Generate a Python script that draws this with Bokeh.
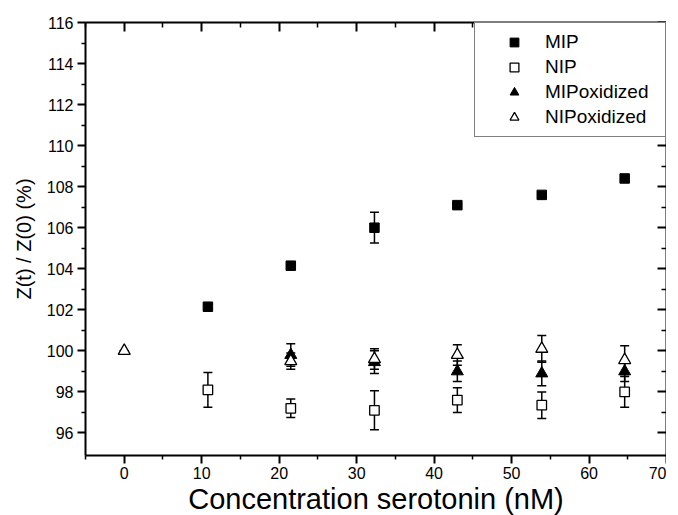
from bokeh.plotting import figure
from bokeh.models import (LinearAxis, FixedTicker, Whisker, TeeHead, ColumnDataSource,
                          Range1d, Legend, LegendItem, CustomJSTickFormatter)
from bokeh.embed import file_html
from bokeh.resources import INLINE

# ---- data ----
mip_x = [10.8, 21.5, 32.3, 43.0, 53.9, 64.6]
mip_y = [102.15, 104.15, 106.0, 107.1, 107.6, 108.4]
mip_err = [0.1, 0.1, 0.75, 0.1, 0.1, 0.12]

nip_x = [10.8, 21.5, 32.3, 43.0, 53.9, 64.6]
nip_y = [98.1, 97.2, 97.1, 97.6, 97.35, 98.0]
nip_err = [0.85, 0.45, 0.95, 0.6, 0.65, 0.75]

mipox_x = [21.5, 32.3, 43.0, 53.9, 64.6]
mipox_y = [99.8, 99.45, 99.0, 98.9, 99.0]
mipox_err = [0.55, 0.55, 0.5, 0.6, 0.5]

nipox_x = [0.0, 21.5, 32.3, 43.0, 53.9, 64.6]
nipox_y = [100.0, 99.5, 99.6, 99.8, 100.1, 99.55]
nipox_err = [0.0, 0.4, 0.5, 0.5, 0.65, 0.7]

x_ticks = [0, 10, 20, 30, 40, 50, 60, 70]
x_minor = [-5, 5, 15, 25, 35, 45, 55, 65]
y_ticks = [96, 98, 100, 102, 104, 106, 108, 110, 112, 114, 116]
y_minor = [97, 99, 101, 103, 105, 107, 109, 111, 113, 115]

FONT = "Liberation Sans"

p = figure(frame_width=581, frame_height=433,
           x_range=Range1d(-5, 70), y_range=Range1d(94.9, 116),
           output_backend="svg", toolbar_location=None,
           min_border_left=85, min_border_top=22, min_border_right=0, min_border_bottom=56)
p.outline_line_color = None
p.xgrid.visible = False
p.ygrid.visible = False
p.background_fill_color = "white"
p.border_fill_color = "white"


def style_axis(ax, ticks, minor, inward, labels=True):
    ax.ticker = FixedTicker(ticks=ticks, minor_ticks=minor)
    ax.axis_line_width = 2
    ax.axis_line_color = "black"
    ax.major_tick_line_width = 2
    ax.minor_tick_line_width = 1.5
    ax.major_tick_line_color = "black"
    ax.minor_tick_line_color = "black"
    if inward:
        ax.major_tick_in, ax.major_tick_out = 9, 0
        ax.minor_tick_in, ax.minor_tick_out = 5, 0
    else:
        ax.major_tick_in, ax.major_tick_out = 0, 8
        ax.minor_tick_in, ax.minor_tick_out = 0, 4
    if labels:
        ax.major_label_text_font = FONT
        ax.major_label_text_font_size = "16px"
        ax.major_label_text_color = "black"
        ax.axis_label_text_font = FONT
        ax.axis_label_text_font_style = "normal"
        ax.axis_label_text_color = "black"
    else:
        ax.formatter = CustomJSTickFormatter(code="return ''")
        ax.major_label_text_font_size = "1px"
        ax.major_label_standoff = 0


xa = p.xaxis[0]
style_axis(xa, x_ticks, x_minor, False)
xa.axis_label = "Concentration serotonin (nM)"
xa.axis_label_text_font_size = "29px"
xa.axis_label_standoff = 1
xa.major_label_standoff = 3

ya = p.yaxis[0]
style_axis(ya, y_ticks, y_minor, False)
ya.axis_label = "Z(t) / Z(0) (%)"
ya.axis_label_text_font_size = "20px"
ya.axis_label_standoff = 9
ya.major_label_standoff = 4

top = LinearAxis()
style_axis(top, x_ticks, x_minor, True, labels=False)
p.add_layout(top, "above")
right = LinearAxis()
style_axis(right, y_ticks, y_minor, True, labels=False)
p.add_layout(right, "right")


def add_err(xs, ys, es):
    src = ColumnDataSource(dict(x=xs,
                                upper=[y + e for y, e in zip(ys, es)],
                                lower=[y - e for y, e in zip(ys, es)]))
    w = Whisker(source=src, base="x", upper="upper", lower="lower", dimension="height",
                line_color="black", line_width=1.5,
                upper_head=TeeHead(size=9, line_width=1.5, line_color="black"),
                lower_head=TeeHead(size=9, line_width=1.5, line_color="black"),
                level="underlay")
    p.add_layout(w)


add_err(mip_x, mip_y, mip_err)
add_err(nip_x, nip_y, nip_err)
add_err(mipox_x, mipox_y, mipox_err)
add_err(nipox_x, nipox_y, nipox_err)

r1 = p.scatter(mip_x, mip_y, marker="square", size=9.5, fill_color="black", line_color="black")
r2 = p.scatter(nip_x, nip_y, marker="square", size=9.5, fill_color="white", line_color="black", line_width=1.3)
r3 = p.scatter(mipox_x, mipox_y, marker="triangle", size=12, fill_color="black", line_color="black")
r4 = p.scatter(nipox_x, nipox_y, marker="triangle", size=12, fill_color="white", line_color="black", line_width=1.3)

legend = Legend(items=[LegendItem(label="MIP", renderers=[r1]),
                       LegendItem(label="NIP", renderers=[r2]),
                       LegendItem(label="MIPoxidized", renderers=[r3]),
                       LegendItem(label="NIPoxidized", renderers=[r4])],
                location="top_right", margin=0, padding=8, spacing=3,
                glyph_width=62, glyph_height=22, label_standoff=0,
                label_width=112, label_height=22,
                label_text_font=FONT, label_text_font_size="19px", label_text_color="black",
                border_line_color="black", border_line_width=1.5,
                background_fill_color="white", background_fill_alpha=1)
p.add_layout(legend)

open("out.html", "w").write(file_html(p, INLINE))
